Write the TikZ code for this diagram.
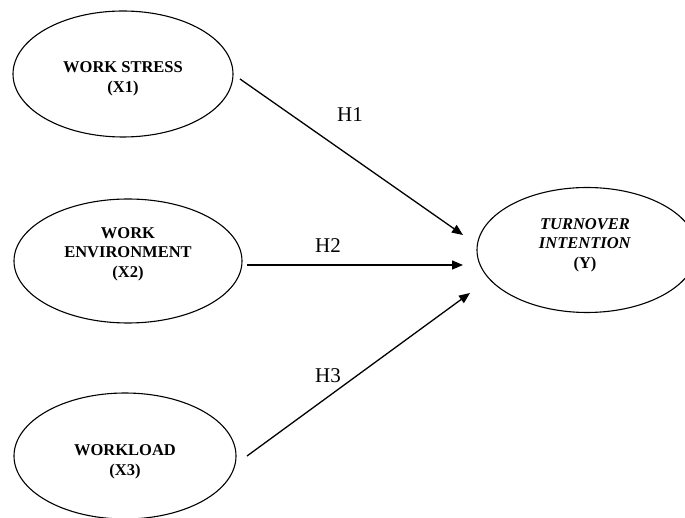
\documentclass[tikz,border=0pt]{standalone}
\usepackage{fontspec}
\setmainfont{Liberation Serif}
\usetikzlibrary{arrows.meta,shapes.geometric}
\begin{document}
\begin{tikzpicture}[x=1pt,y=-1pt,
  ell/.style={draw,line width=1.1pt,ellipse,inner sep=0pt},
  lbl/.style={align=center,font=\fontsize{16.5}{19.5}\selectfont\bfseries,inner sep=0pt},
  hyp/.style={font=\fontsize{21}{24}\selectfont,inner sep=0pt},
  conn/.style={line width=1.3pt,-{Triangle[length=11pt,width=9pt]}}]
\useasboundingbox (0,0) rectangle (685,518);
\node[ell,minimum width=220pt,minimum height=126pt] (e1) at (123,74) {};
\node[ell,minimum width=228pt,minimum height=124pt] (e2) at (128,261) {};
\node[ell,minimum width=222pt,minimum height=126pt] (e3) at (125,456) {};
\node[ell,minimum width=220pt,minimum height=125pt] (y) at (587,250) {};
\node[lbl] (l1) at (123,79) {WORK STRESS\\(X1)};
\node[lbl] (l2) at (128,254) {WORK\\ENVIRONMENT\\(X2)};
\node[lbl] (l3) at (125,462) {WORKLOAD\\(X3)};
\node[lbl] (ly) at (585,245) {\textit{TURNOVER}\\\textit{INTENTION}\\(Y)};
\coordinate (s1) at (240,79);
\coordinate (t1) at (463,235);
\coordinate (s2) at (247,265);
\coordinate (t2) at (463,265);
\coordinate (s3) at (247,456);
\coordinate (t3) at (470,293);
\draw[conn] (s1) -- (t1);
\draw[conn] (s2) -- (t2);
\draw[conn] (s3) -- (t3);
\node[hyp] (h1) at (350,115) {H1};
\node[hyp] (h2) at (328,246) {H2};
\node[hyp] (h3) at (328,376) {H3};
\end{tikzpicture}
\end{document}
